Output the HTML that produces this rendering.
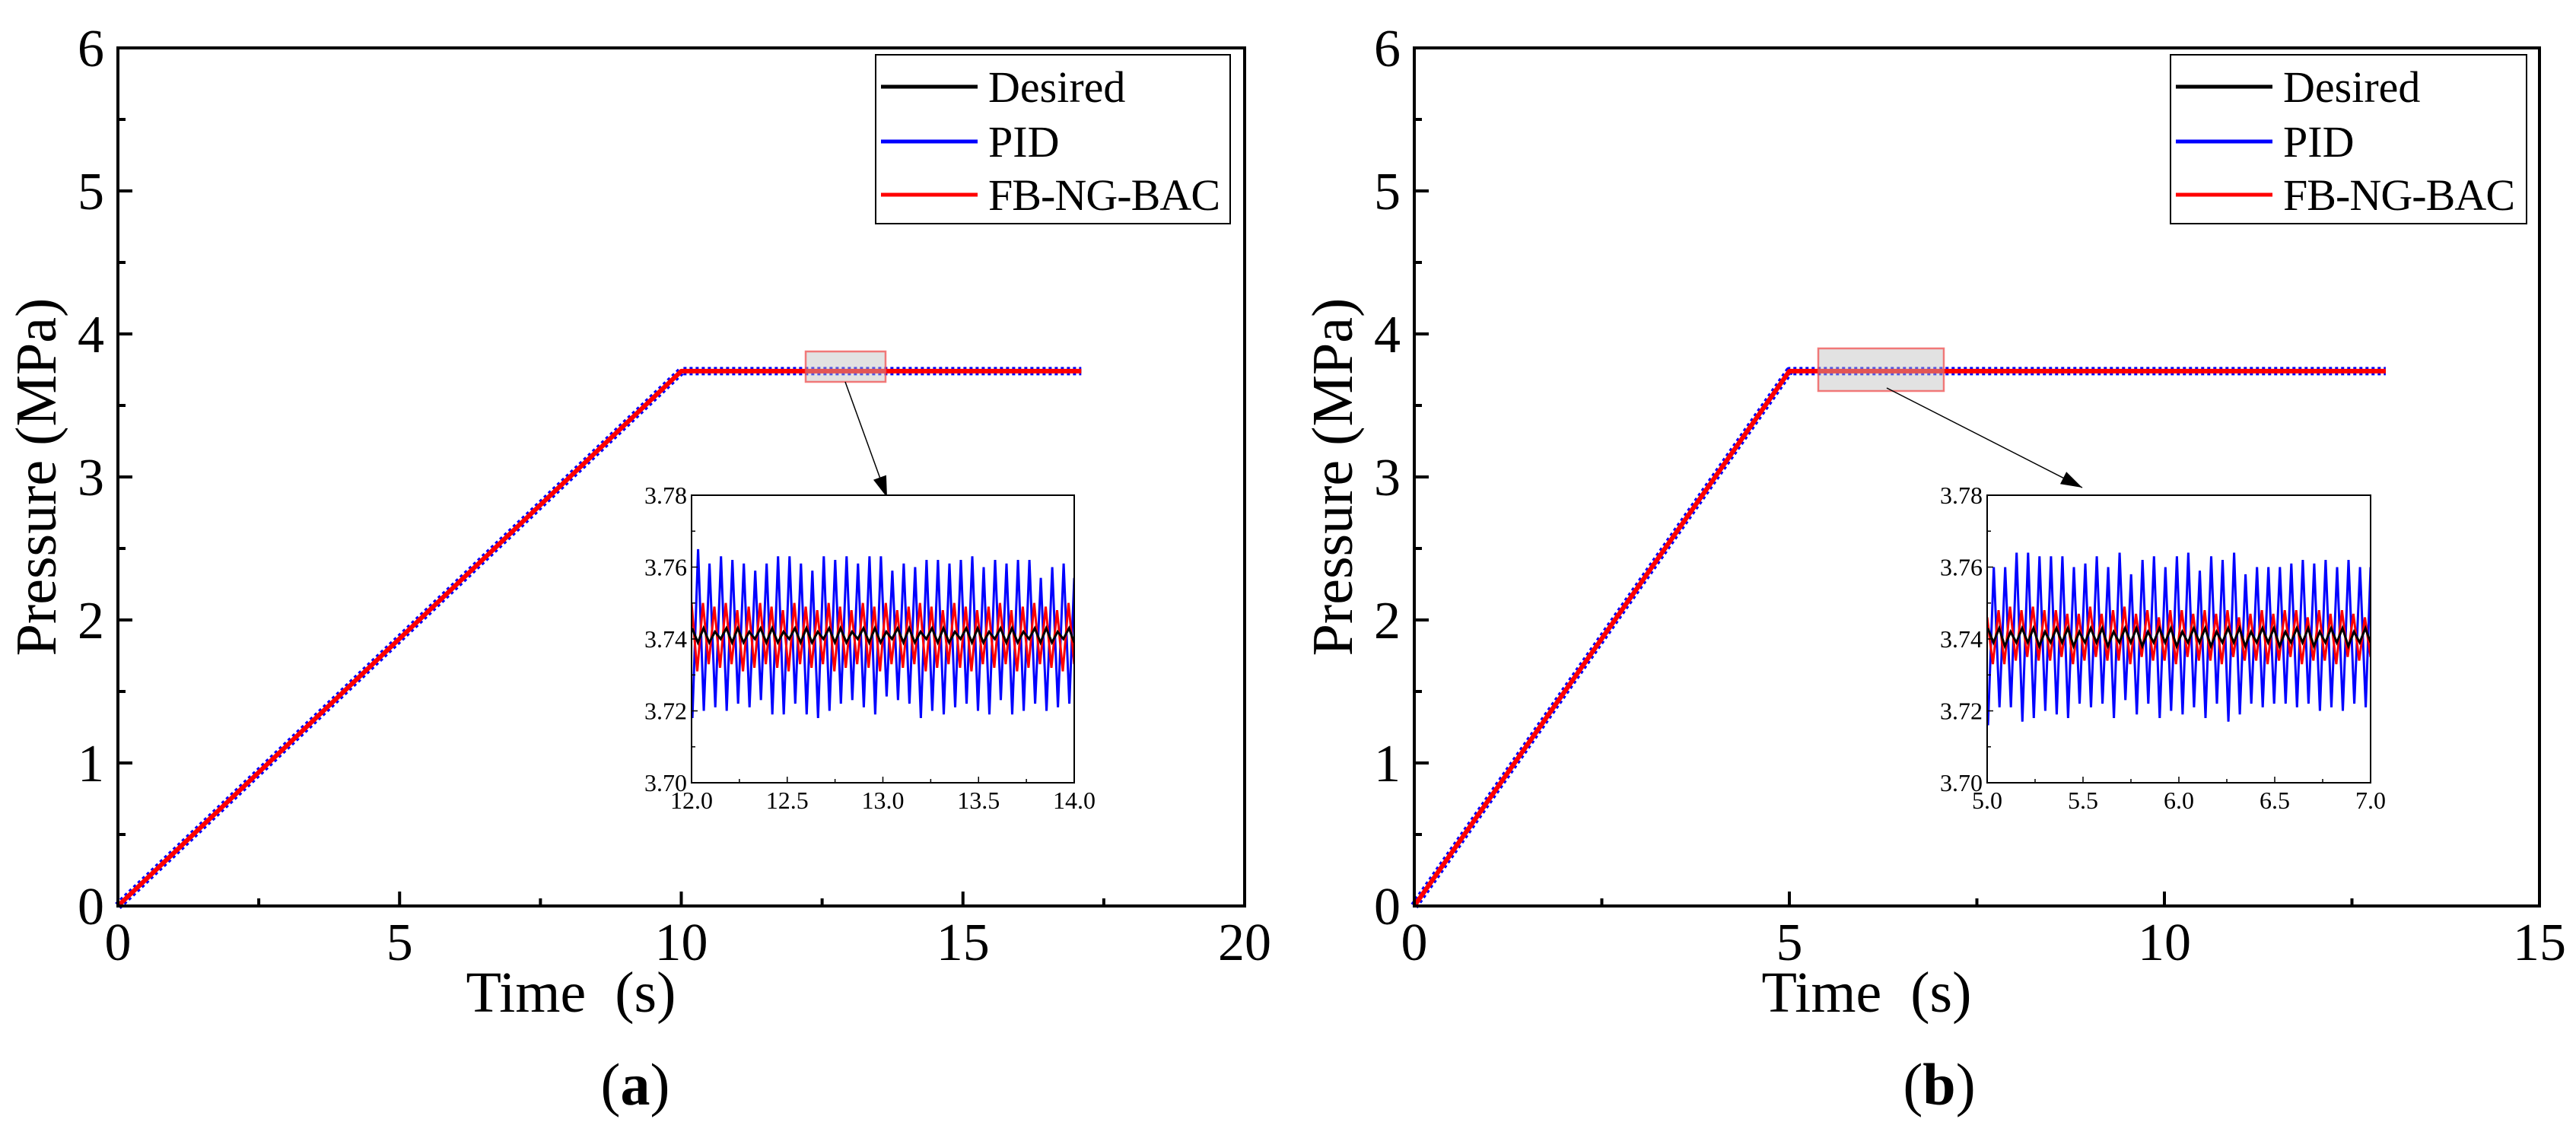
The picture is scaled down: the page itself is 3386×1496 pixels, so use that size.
<!DOCTYPE html>
<html><head><meta charset="utf-8"><style>
html,body{margin:0;padding:0;background:#fff}
svg, svg text{font-family:"Liberation Serif","Times New Roman",Times,serif}
</style></head><body>
<svg id="fig" width="3386" height="1491" viewBox="0 0 3386 1491" xmlns="http://www.w3.org/2000/svg"></svg>
<script>
// ---- data ----
const panelLabels = ["(a)", "(b)"];
const mainXTicksA = [0, 5, 10, 15, 20];
const mainXTicksB = [0, 5, 10, 15];
const mainYTicks = [0, 1, 2, 3, 4, 5, 6];
const rampTimeA = [0, 10, 17.1];
const rampTimeB = [0, 5, 12.95];
const rampPressure = [0, 3.74, 3.74];
const insetYTicks = [3.70, 3.72, 3.74, 3.76, 3.78];
const insetXTicksA = [12.0, 12.5, 13.0, 13.5, 14.0];
const insetXTicksB = [5.0, 5.5, 6.0, 6.5, 7.0];
const seriesNames = ["Desired", "PID", "FB-NG-BAC"];
const pidPeaksA = [3.765,3.761,3.763,3.762,3.761,3.759,3.761,3.763,3.763,3.761,3.759,3.763,3.762,3.763,3.761,3.763,3.763,3.759,3.761,3.760,3.762,3.762,3.761,3.762,3.763,3.760,3.762,3.761,3.762,3.762,3.757,3.760,3.761,3.757];
const pidTroughsA = [3.718,3.720,3.721,3.720,3.722,3.721,3.723,3.719,3.719,3.722,3.719,3.718,3.720,3.722,3.723,3.721,3.719,3.724,3.723,3.722,3.718,3.720,3.719,3.721,3.722,3.720,3.719,3.723,3.719,3.720,3.722,3.720,3.721,3.722];
const fbPeaksA = [3.750,3.750,3.749,3.750,3.748,3.749,3.750,3.749,3.748,3.750,3.749,3.748,3.750,3.749,3.748,3.750,3.749,3.750,3.748,3.749,3.750,3.749,3.748,3.750,3.749,3.748,3.749,3.750,3.748,3.749,3.750,3.749,3.748,3.750];
const fbTroughsA = [3.731,3.733,3.732,3.733,3.731,3.732,3.733,3.732,3.731,3.733,3.732,3.733,3.731,3.732,3.733,3.732,3.731,3.733,3.732,3.733,3.731,3.732,3.733,3.732,3.731,3.733,3.732,3.733,3.731,3.732,3.733,3.732,3.731,3.733];
const desPeaksA = [3.743,3.743,3.742,3.743,3.743,3.742,3.743,3.743,3.742,3.743,3.743,3.742,3.743,3.743,3.742,3.743,3.743,3.742,3.743,3.743,3.742,3.743,3.743,3.742,3.743,3.743,3.742,3.743,3.743,3.742,3.743,3.743,3.742,3.743];
const desTroughsA = [3.739,3.739,3.740,3.739,3.739,3.740,3.739,3.739,3.740,3.739,3.739,3.740,3.739,3.739,3.740,3.739,3.739,3.740,3.739,3.739,3.740,3.739,3.739,3.740,3.739,3.739,3.740,3.739,3.739,3.740,3.739,3.739,3.740,3.739];
const pidPeaksB = [3.760,3.760,3.764,3.764,3.763,3.763,3.763,3.760,3.761,3.763,3.760,3.764,3.758,3.762,3.763,3.760,3.763,3.764,3.759,3.763,3.762,3.764,3.758,3.760,3.760,3.760,3.761,3.762,3.761,3.762,3.760,3.762,3.760,3.760];
const pidTroughsB = [3.716,3.721,3.721,3.717,3.718,3.720,3.719,3.718,3.722,3.721,3.722,3.718,3.723,3.719,3.722,3.718,3.720,3.719,3.721,3.718,3.722,3.717,3.719,3.722,3.721,3.722,3.722,3.721,3.722,3.720,3.721,3.720,3.722,3.721];
const fbPeaksB = [3.746,3.748,3.749,3.748,3.749,3.748,3.748,3.747,3.747,3.749,3.747,3.748,3.749,3.747,3.748,3.746,3.748,3.748,3.747,3.748,3.747,3.748,3.746,3.747,3.748,3.747,3.748,3.748,3.746,3.748,3.747,3.748,3.747,3.746];
const fbTroughsB = [3.733,3.733,3.734,3.735,3.734,3.734,3.735,3.733,3.734,3.735,3.734,3.734,3.733,3.735,3.734,3.734,3.733,3.735,3.734,3.734,3.733,3.735,3.734,3.734,3.733,3.734,3.735,3.733,3.734,3.734,3.733,3.735,3.734,3.735];
const desPeaksB = [3.743,3.743,3.742,3.743,3.743,3.742,3.743,3.743,3.742,3.743,3.743,3.742,3.743,3.743,3.742,3.743,3.743,3.742,3.743,3.743,3.742,3.743,3.743,3.742,3.743,3.743,3.742,3.743,3.743,3.742,3.743,3.743,3.742,3.743];
const desTroughsB = [3.739,3.738,3.739,3.739,3.738,3.739,3.739,3.738,3.739,3.739,3.738,3.739,3.739,3.738,3.739,3.739,3.738,3.739,3.739,3.738,3.739,3.739,3.738,3.739,3.739,3.738,3.739,3.739,3.738,3.739,3.739,3.738,3.739,3.739];

// ---- drawing ----
const NS = "http://www.w3.org/2000/svg";
const svg = document.getElementById("fig");
function mk(tag, attrs, parent) {
  const e = document.createElementNS(NS, tag);
  for (const k in attrs) e.setAttribute(k, attrs[k]);
  (parent || svg).appendChild(e);
  return e;
}
function txt(s, attrs, parent) {
  const t = mk("text", attrs, parent);
  t.setAttribute("font-family", "'Liberation Serif', 'Times New Roman', Times, serif");
  t.textContent = s; return t;
}
function lin(d0, d1, r0, r1) { return v => r0 + (v - d0) / (d1 - d0) * (r1 - r0); }
function interleave(peaks, troughs, phaseFirstPeak) {
  const vals = [];
  for (let i = 0; i < peaks.length; i++) {
    if (phaseFirstPeak) { vals.push(peaks[i]); vals.push(troughs[i]); }
    else { vals.push(troughs[i]); vals.push(peaks[i]); }
  }
  return vals;
}

function panel(cfg) {
  const g = mk("g", {});
  
  
  const X = lin(0, cfg.xmax, cfg.L, cfg.R);
  const Y = lin(0, 6, 1191, 63);
  const series = [
    {c: "#0000ff", w: 11, n: "pid-line", dash: "4 4"},
    {c: "#000000", w: 5, n: "desired-line"},
    {c: "#ff0000", w: 6, n: "fb-ng-bac-line"}
  ];
  series.forEach(s => {
    const pts = cfg.rampTime.map((t, i) => X(t).toFixed(1) + "," + Y(rampPressure[i]).toFixed(1)).join(" ");
    const p = mk("polyline", {points: pts, fill: "none", stroke: s.c, "stroke-width": s.w, "stroke-linejoin": "round"}, g);
    if (s.dash) p.setAttribute("stroke-dasharray", s.dash);
    
    
  });
  const fr = mk("rect", {x: cfg.L, y: 63, width: cfg.R - cfg.L, height: 1128, fill: "none", stroke: "#000", "stroke-width": 4}, g);
  
  
  cfg.xTicks.forEach((v, i) => {
    mk("line", {x1: X(v), x2: X(v), y1: 1191, y2: 1172, stroke: "#000", "stroke-width": 4}, g);
    if (i < cfg.xTicks.length - 1) {
      const m = v + (cfg.xTicks[1] - cfg.xTicks[0]) / 2;
      mk("line", {x1: X(m), x2: X(m), y1: 1191, y2: 1181, stroke: "#000", "stroke-width": 4}, g);
    }
    const t = txt(String(v), {x: X(v), y: 1262, "font-size": 70, "text-anchor": "middle"}, g);
    
    
  });
  mainYTicks.forEach((v, i) => {
    mk("line", {x1: cfg.L, x2: cfg.L + 19, y1: Y(v), y2: Y(v), stroke: "#000", "stroke-width": 4}, g);
    if (i < mainYTicks.length - 1)
      mk("line", {x1: cfg.L, x2: cfg.L + 10, y1: Y(v + 0.5), y2: Y(v + 0.5), stroke: "#000", "stroke-width": 4}, g);
    const t = txt(String(v), {x: cfg.L - 18, y: Y(v) + 24, "font-size": 70, "text-anchor": "end"}, g);
    
    
  });
  const yt = txt("Pressure (MPa)", {x: 0, y: 0, "font-size": 76, "text-anchor": "middle", transform: `translate(${cfg.L - 82},627) rotate(-90)`}, g);
  
  
  const xt = txt("Time\u00a0 (s)", {x: (cfg.L + cfg.R) / 2 - 145, y: 1330, "font-size": 76, "text-anchor": "middle"}, g);
  
  
  const pl = txt("", {x: cfg.labelX, y: 1452, "font-size": 78, "text-anchor": "middle"}, g);
  
  
  const s = cfg.label;
  const a1 = mk("tspan", {}, pl); a1.textContent = "(";
  const b1 = mk("tspan", {"font-weight": "bold"}, pl); b1.textContent = s.slice(1, -1);
  const c1 = mk("tspan", {}, pl); c1.textContent = ")";
  const lg = mk("g", {}, g);
  
  
  mk("rect", {x: cfg.legX, y: 72, width: cfg.legW, height: 222, fill: "#fff", stroke: "#000", "stroke-width": 2}, lg);
  const cols = ["#000000", "#0000ff", "#ff0000"];
  const rows = [114, 186, 256];
  seriesNames.forEach((n, i) => {
    const e = mk("g", {}, lg);
    
    
    mk("line", {x1: cfg.legX + 7, x2: cfg.legX + 134, y1: rows[i], y2: rows[i], stroke: cols[i], "stroke-width": 5}, e);
    txt(n, {x: cfg.legX + 148, y: rows[i] + 20, "font-size": 58, textLength: i === 2 ? 305 : null}, e);
  });
  const zr = mk("rect", {x: cfg.zx, y: cfg.zy, width: cfg.zw, height: cfg.zh, fill: "rgba(190,190,190,0.45)", stroke: "rgba(240,80,80,0.75)", "stroke-width": 2.5}, g);
  
  
  const ar = mk("line", {x1: cfg.a1[0], y1: cfg.a1[1], x2: cfg.a2[0], y2: cfg.a2[1], stroke: "#000", "stroke-width": 1.5}, g);
  
  
  const ang = Math.atan2(cfg.a2[1] - cfg.a1[1], cfg.a2[0] - cfg.a1[0]);
  const hx = cfg.a2[0], hy = cfg.a2[1], hl = 28, hw = 9;
  const bx = hx - hl * Math.cos(ang), by = hy - hl * Math.sin(ang);
  mk("polygon", {points: `${hx},${hy} ${bx - hw * Math.sin(ang)},${by + hw * Math.cos(ang)} ${bx + hw * Math.sin(ang)},${by - hw * Math.cos(ang)}`, fill: "#000"}, g);

  const ig = mk("g", {}, g);
  
  
  const iL = cfg.iL, iR = cfg.iR, iT = 651, iB = 1029;
  mk("rect", {x: iL, y: iT, width: iR - iL, height: iB - iT, fill: "#fff"}, ig);
  const IX = lin(cfg.ix0, cfg.ix0 + 2, iL, iR);
  const IY = lin(3.70, 3.78, iB, iT);
  const clip = mk("clipPath", {id: "clip" + cfg.id}, ig);
  mk("rect", {x: iL, y: iT, width: iR - iL, height: iB - iT}, clip);
  const iseries = [
    {p: cfg.pidP, t: cfg.pidT, c: "#0000ff", first: false, off: 0.15, n: "inset-pid-line"},
    {p: cfg.fbP, t: cfg.fbT, c: "#ff0000", first: true, off: 0.0, n: "inset-fb-ng-bac-line"},
    {p: cfg.desP, t: cfg.desT, c: "#000000", first: true, off: 0.1, n: "inset-desired-line"}
  ];
  iseries.forEach(s => {
    const vals = interleave(s.p, s.t, s.first);
    const dt = 2 / (vals.length - 1);
    const pts = vals.map((v, i) => IX(cfg.ix0 + Math.min(2, Math.max(0, (i + s.off) * dt))).toFixed(1) + "," + IY(v).toFixed(1)).join(" ");
    const p = mk("polyline", {points: pts, fill: "none", stroke: s.c, "stroke-width": 3, "clip-path": `url(#clip${cfg.id})`}, ig);
    
    
  });
  mk("rect", {x: iL, y: iT, width: iR - iL, height: iB - iT, fill: "none", stroke: "#000", "stroke-width": 2}, ig);
  cfg.ixTicks.forEach((v, i) => {
    mk("line", {x1: IX(v), x2: IX(v), y1: iB, y2: iB - 8, stroke: "#000", "stroke-width": 1.5}, ig);
    if (i < cfg.ixTicks.length - 1) mk("line", {x1: IX(v + 0.25), x2: IX(v + 0.25), y1: iB, y2: iB - 5, stroke: "#000", "stroke-width": 1.5}, ig);
    const t = txt(v.toFixed(1), {x: IX(v), y: iB + 34, "font-size": 32, "text-anchor": "middle"}, ig);
    
    
  });
  insetYTicks.forEach((v, i) => {
    mk("line", {x1: iL, x2: iL + 8, y1: IY(v), y2: IY(v), stroke: "#000", "stroke-width": 1.5}, ig);
    if (i < insetYTicks.length - 1) mk("line", {x1: iL, x2: iL + 5, y1: IY(v + 0.01), y2: IY(v + 0.01), stroke: "#000", "stroke-width": 1.5}, ig);
    const t = txt(v.toFixed(2), {x: iL - 6, y: IY(v) + 11, "font-size": 32, "text-anchor": "end"}, ig);
    
    
  });
}

panel({id: "a", L: 155, R: 1636, xmax: 20, xTicks: mainXTicksA, rampTime: rampTimeA, label: panelLabels[0], labelX: 835,
  legX: 1151, legW: 466, zx: 1059, zy: 462, zw: 105, zh: 40, a1: [1111, 502], a2: [1166, 654],
  iL: 909, iR: 1412, ix0: 12.0, ixTicks: insetXTicksA,
  pidP: pidPeaksA, pidT: pidTroughsA, fbP: fbPeaksA, fbT: fbTroughsA, desP: desPeaksA, desT: desTroughsA});
panel({id: "b", L: 1859, R: 3338, xmax: 15, xTicks: mainXTicksB, rampTime: rampTimeB, label: panelLabels[1], labelX: 2549,
  legX: 2853, legW: 468, zx: 2390, zy: 458, zw: 165, zh: 56, a1: [2480, 510], a2: [2737, 641],
  iL: 2612, iR: 3116, ix0: 5.0, ixTicks: insetXTicksB,
  pidP: pidPeaksB, pidT: pidTroughsB, fbP: fbPeaksB, fbT: fbTroughsB, desP: desPeaksB, desT: desTroughsB});
</script>
</body></html>
